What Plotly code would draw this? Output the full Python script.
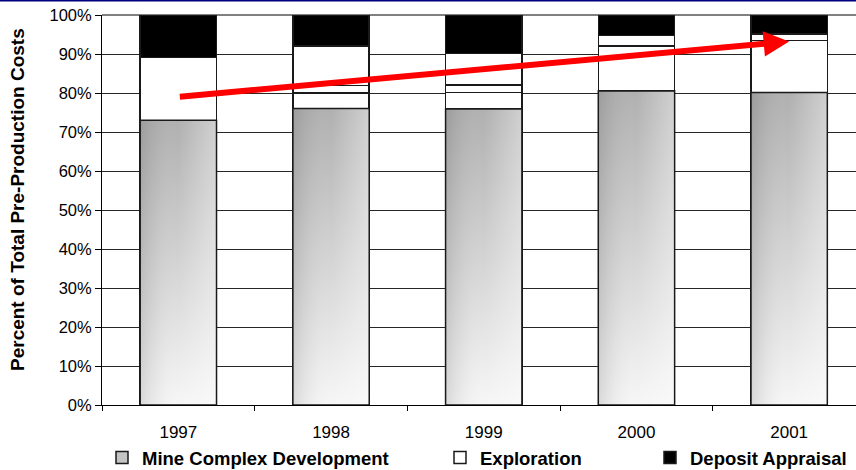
import plotly.graph_objects as go

# Share of total pre-production costs by year (percent)
years = ["1997", "1998", "1999", "2000", "2001"]
mine_complex = [73.0, 76.0, 75.9, 80.5, 80.1]
other_a = [0.0, 4.0, 4.2, 0.0, 0.0]
other_b = [0.0, 1.9, 2.0, 11.6, 13.3]
exploration = [16.1, 10.2, 8.0, 2.7, 1.7]
deposit_appraisal = [10.9, 7.9, 9.9, 5.2, 4.9]

y_ticks = [0, 10, 20, 30, 40, 50, 60, 70, 80, 90, 100]
y_tick_text = [f"{v}%" for v in y_ticks]
y_title = "Percent of Total Pre-Production Costs"

# Trend arrow: start and end points (year, percent)
trend_years = ["1997", "2001"]
trend_pct = [79.0, 93.2]

FONT = "Liberation Sans, Arial, Helvetica, sans-serif"
EDGE = "#1a1a1a"
BAR_W = 0.5
W, H = 856, 470
L, T, B = 102, 15, 65
PLOT_W, PLOT_H = W - L, H - T - B
CAT_PX = 152.7
x_max = -0.5 + PLOT_W / CAT_PX

fig = go.Figure()


def segment(name, values, color, legend="legend", show=True):
    fig.add_trace(go.Bar(
        x=years, y=values, name=name, legend=legend, showlegend=show,
        marker=dict(color=color, line=dict(color=EDGE, width=1.5)),
        hovertemplate="%{x}: %{y:.1f}%<extra>" + name + "</extra>",
    ))


segment("Mine Complex Development", mine_complex, "#c4c4c4", "legend")
segment("Other A", other_a, "white", show=False)
segment("Other B", other_b, "white", show=False)
segment("Exploration", exploration, "white", "legend2")
segment("Deposit Appraisal", deposit_appraisal, "black", "legend3")

# Shaded fill of the mine-development bars (vertical + horizontal gradient)
for i, v in enumerate(mine_complex):
    x0, x1 = i - BAR_W / 2, i + BAR_W / 2
    xs = [x0, x1, x1, x0, x0]
    ys = [0, 0, v, v, 0]
    fig.add_trace(go.Scatter(
        x=xs, y=ys, xaxis="x2", yaxis="y", mode="none", fill="toself",
        fillgradient=dict(type="vertical",
                          colorscale=[[0, "#f6f6f6"], [1, "#b0b0b0"]],
                          start=0, stop=v),
        showlegend=False, hoverinfo="skip",
    ))
    fig.add_trace(go.Scatter(
        x=xs, y=ys, xaxis="x2", yaxis="y", mode="lines", fill="toself",
        line=dict(color=EDGE, width=1.5),
        fillgradient=dict(type="horizontal",
                          colorscale=[[0, "rgba(0,0,0,0.12)"],
                                      [0.5, "rgba(255,255,255,0)"],
                                      [1, "rgba(255,255,255,0.4)"]],
                          start=x0, stop=x1),
        showlegend=False, hoverinfo="skip",
    ))

# Rising trend arrow across the years
fig.add_annotation(
    x=years.index(trend_years[1]), y=trend_pct[1],
    ax=years.index(trend_years[0]), ay=trend_pct[0],
    xref="x2", yref="y", axref="x2", ayref="y", text="", showarrow=True,
    arrowhead=2, arrowsize=0.85, arrowwidth=6, arrowcolor="#ff0000",
    standoff=0, startstandoff=0,
)

# Vertical axis title
fig.add_annotation(
    text=y_title, textangle=-90, showarrow=False,
    xref="paper", yref="paper", x=(17 - L) / PLOT_W, y=(405 - 200) / PLOT_H,
    xanchor="center", yanchor="middle",
    font=dict(family=FONT, size=19, color="black", weight="bold"),
)

legend_common = dict(orientation="h", yanchor="middle", y=1 - 458 / H,
                     xref="container", yref="container", xanchor="left",
                     font=dict(family=FONT, size=18.5, color="black", weight="bold"),
                     bgcolor="rgba(0,0,0,0)", borderwidth=0)

fig.update_layout(
    width=W, height=H,
    margin=dict(l=L, r=0, t=T, b=B, pad=0),
    paper_bgcolor="white", plot_bgcolor="white",
    barmode="stack", bargap=0.5,
    font=dict(family=FONT, color="black", size=17),
    legend=dict(legend_common, x=102 / W),
    legend2=dict(legend_common, x=440 / W),
    legend3=dict(legend_common, x=650 / W),
    xaxis=dict(type="category", range=[-0.5, x_max], tickson="boundaries",
               ticks="outside", ticklen=5, tickcolor="black", showline=True,
               linecolor="black", linewidth=1, showgrid=False, zeroline=False,
               tickfont=dict(size=17), ticklabelstandoff=12, automargin=False),
    xaxis2=dict(overlaying="x", range=[-0.5, x_max], visible=False),
    yaxis=dict(range=[0, 100], tickvals=y_ticks, ticktext=y_tick_text,
               ticks="outside", ticklen=6, tickcolor="black", showline=True,
               linecolor="black", linewidth=1, showgrid=True, gridcolor="#262626",
               gridwidth=1, zeroline=False, tickfont=dict(size=16.5),
               automargin=False),
    shapes=[
        # plot-area top border
        dict(type="line", xref="paper", yref="paper", x0=0, x1=1, y0=1, y1=1,
             line=dict(color="#808080", width=2), layer="below"),
        # navy rule along the top edge
        dict(type="line", xref="paper", yref="paper", x0=-L / PLOT_W, x1=1,
             y0=1 + (T - 0.5) / PLOT_H, y1=1 + (T - 0.5) / PLOT_H,
             line=dict(color="#000080", width=2)),
    ],
)

fig.write_html("out.html")
